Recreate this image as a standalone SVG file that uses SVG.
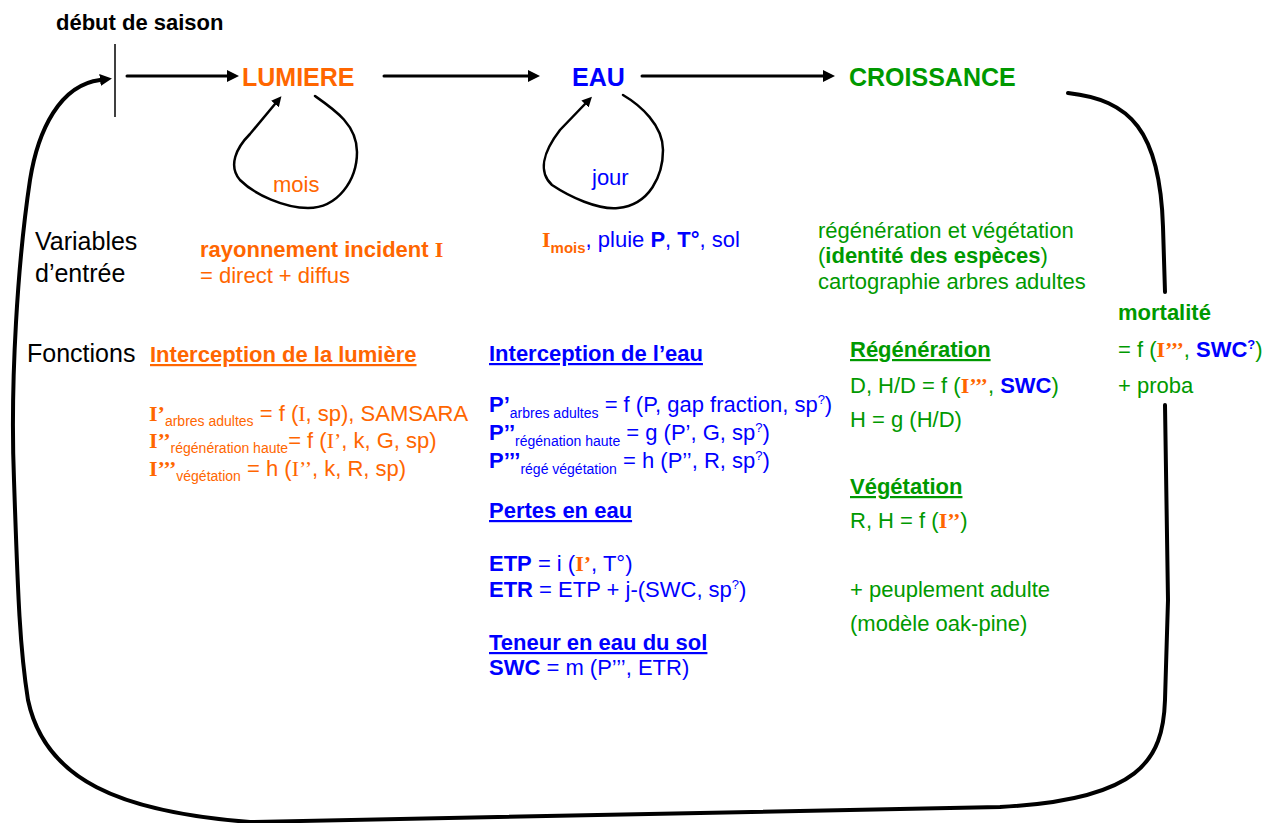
<svg xmlns="http://www.w3.org/2000/svg" width="1263" height="823" viewBox="0 0 1263 823">
<defs>
<style>
text{font-family:"Liberation Sans",Arial,sans-serif;font-size:22px}
.b{font-weight:bold}
.o{fill:#FF6600}.bl{fill:#0000FF}.g{fill:#009900}.k{fill:#000}
.ser{font-family:"Liberation Serif","Times New Roman",serif}
.sub{font-size:14px}
.sup{font-size:13px}
.u{text-decoration:underline}
.big{font-size:25px;font-weight:bold}
.ln{fill:none;stroke:#000;stroke-linecap:round}
</style>
<marker id="ah" viewBox="0 0 12 12" refX="0" refY="6" markerWidth="12" markerHeight="12" markerUnits="userSpaceOnUse" orient="auto"><path d="M0,0 L12,6 L0,12 z" fill="#000"/></marker>
<marker id="ahs" viewBox="0 0 10 10" refX="0" refY="5" markerWidth="10" markerHeight="10" markerUnits="userSpaceOnUse" orient="auto"><path d="M0,0 L10,5 L0,10 z" fill="#000"/></marker>
</defs>
<rect width="1263" height="823" fill="#fff"/>

<g id="connectors">
<line x1="115" y1="44" x2="115" y2="117" stroke="#000" stroke-width="1.5"/>
<path class="ln" d="M127,76 L227,76" stroke-width="3" marker-end="url(#ah)"/>
<path class="ln" d="M384,76 L528,76" stroke-width="3" marker-end="url(#ah)"/>
<path class="ln" d="M642,76 L823,76" stroke-width="3" marker-end="url(#ah)"/>
<path class="ln" d="M315,96 C335,110 357,125 357,152 C357,180 338,208 308,208 C285,208 255,195 240,180 C228,166 236,148 250,134 L275,104" stroke-width="2.5" marker-end="url(#ahs)"/>
<path class="ln" d="M623,95 C640,105 663,125 663,150 C663,175 650,205 618,208 C598,210 570,197 552,185 C538,172 543,152 560,130 L585,104" stroke-width="2.5" marker-end="url(#ahs)"/>
<path class="ln" d="M1068,93 C1130,100 1160,130 1163,227 L1165,292" stroke-width="4"/>
<path class="ln" d="M1165,405 L1168,600 L1165,700 C1163,760 1140,800 1000,807 L250,822 C120,812 45,780 28,700 C20,650 18,600 14,480 C10,380 18,260 30,180 C38,130 60,85 100,80" stroke-width="4" marker-end="url(#ah)"/>
</g>

<g id="debut"><text x="56" y="30" class="b k">début de saison</text></g>
<g id="lumiere"><text x="242" y="86" class="big o">LUMIERE</text></g>
<g id="eau"><text x="572" y="86" class="big bl">EAU</text></g>
<g id="croissance"><text x="849" y="86" class="big g">CROISSANCE</text></g>
<g id="mois"><text x="273" y="192" class="o">mois</text></g>
<g id="jour"><text x="592" y="185" class="bl">jour</text></g>

<g id="variables">
<text x="35" y="250" class="k" style="font-size:25px">Variables</text>
<text x="35" y="282" class="k" style="font-size:25px">d’entrée</text>
</g>
<g id="fonctions"><text x="27" y="362" class="k" style="font-size:25px">Fonctions</text></g>

<g id="entree-lumiere">
<text x="200" y="257" class="b o">rayonnement incident <tspan class="ser">I</tspan></text>
<text x="200" y="283" class="o">= direct + diffus</text>
</g>

<g id="entree-eau">
<text x="542" y="247" class="bl"><tspan class="ser b o">I</tspan><tspan class="sub b o" dy="6" style="font-size:15px">mois</tspan><tspan dy="-6">, pluie </tspan><tspan class="b">P</tspan>, <tspan class="b">T°</tspan>, sol</text>
</g>

<g id="entree-croissance">
<text x="818" y="238" class="g">régénération et végétation</text>
<text x="818" y="263" class="g">(<tspan class="b">identité des espèces</tspan>)</text>
<text x="818" y="289" class="g">cartographie arbres adultes</text>
</g>

<g id="mortalite">
<text x="1118" y="320" class="b g">mortalité</text>
<text x="1118" y="357" class="g">= f (<tspan class="ser b o">I’’’</tspan>, <tspan class="b bl">SWC</tspan><tspan class="b bl sup" dy="-8">?</tspan><tspan dy="8">)</tspan></text>
<text x="1118" y="393" class="g">+ proba</text>
</g>

<g id="fonction-lumiere">
<text x="150" y="362" class="b o u">Interception de la lumière</text>
<text x="149" y="421" class="o"><tspan class="ser b">I’</tspan><tspan class="sub" dy="5">arbres adultes</tspan><tspan dy="-5"> = f (</tspan><tspan class="ser">I</tspan>, sp), SAMSARA</text>
<text x="149" y="448" class="o"><tspan class="ser b">I’’</tspan><tspan class="sub" dy="5">régénération haute</tspan><tspan dy="-5">= f (</tspan><tspan class="ser">I’</tspan>, k, G, sp)</text>
<text x="149" y="476" class="o"><tspan class="ser b">I’’’</tspan><tspan class="sub" dy="5">végétation</tspan><tspan dy="-5"> = h (</tspan><tspan class="ser">I’’</tspan>, k, R, sp)</text>
</g>

<g id="fonction-eau">
<text x="489" y="361" class="b bl u">Interception de l’eau</text>
<text x="489" y="412" class="bl"><tspan class="b">P’</tspan><tspan class="sub" dy="6">arbres adultes</tspan><tspan dy="-6"> = f (P, gap fraction, sp</tspan><tspan class="sup" dy="-8">?</tspan><tspan dy="8">)</tspan></text>
<text x="489" y="440" class="bl"><tspan class="b">P’’</tspan><tspan class="sub" dy="6">régénation haute</tspan><tspan dy="-6"> = g (P’, G, sp</tspan><tspan class="sup" dy="-8">?</tspan><tspan dy="8">)</tspan></text>
<text x="489" y="468" class="bl"><tspan class="b">P’’’</tspan><tspan class="sub" dy="6">régé végétation</tspan><tspan dy="-6"> = h (P’’, R, sp</tspan><tspan class="sup" dy="-8">?</tspan><tspan dy="8">)</tspan></text>
<text x="489" y="518" class="b bl u">Pertes en eau</text>
<text x="489" y="571" class="bl"><tspan class="b">ETP</tspan> = i (<tspan class="ser b o">I’</tspan>, T°)</text>
<text x="489" y="597" class="bl"><tspan class="b">ETR</tspan> = ETP + j-(SWC, sp<tspan class="sup" dy="-8">?</tspan><tspan dy="8">)</tspan></text>
<text x="489" y="650" class="b bl u">Teneur en eau du sol</text>
<text x="489" y="675" class="bl"><tspan class="b">SWC</tspan> = m (P’’’, ETR)</text>
</g>

<g id="fonction-croissance">
<text x="850" y="357" class="b g u">Régénération</text>
<text x="850" y="393" class="g">D, H/D = f (<tspan class="ser b o">I’’’</tspan>, <tspan class="b bl">SWC</tspan>)</text>
<text x="850" y="427" class="g">H = g (H/D)</text>
<text x="850" y="494" class="b g u">Végétation</text>
<text x="850" y="528" class="g">R, H = f (<tspan class="ser b o">I’’</tspan>)</text>
<text x="850" y="597" class="g">+ peuplement adulte</text>
<text x="850" y="631" class="g">(modèle oak-pine)</text>
</g>
</svg>
